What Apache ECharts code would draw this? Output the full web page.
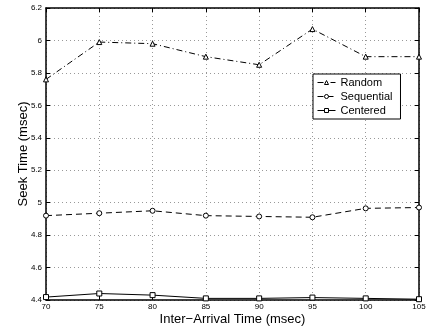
<!DOCTYPE html>
<html><head><meta charset="utf-8">
<script src="https://cdn.jsdelivr.net/npm/echarts@6/dist/echarts.min.js"></script>
<style>html,body{margin:0;padding:0;background:#fff}#c{width:429px;height:331px}</style>
</head><body><div id="c"></div>
<script>
const xValues = [70, 75, 80, 85, 90, 95, 100, 105];
const randomValues = [5.76, 5.99, 5.98, 5.90, 5.85, 6.07, 5.90, 5.90];
const sequentialValues = [4.92, 4.935, 4.95, 4.92, 4.915, 4.91, 4.965, 4.97];
const centeredValues = [4.418, 4.44, 4.43, 4.41, 4.41, 4.415, 4.41, 4.405];
const seriesNames = ['Random', 'Sequential', 'Centered'];

const font = 'Liberation Sans, Arial, sans-serif';
const chart = echarts.init(document.getElementById('c'), null, {renderer: 'canvas'});
const pair = v => xValues.map((x, i) => [x, v[i]]);
const mk = (name, data, symbol, type) => ({
  name, type: 'line', data: pair(data), symbol, symbolSize: 5,
  lineStyle: {color: '#000', width: 1, type},
  itemStyle: {color: '#fff', borderColor: '#000', borderWidth: 1},
  emphasis: {disabled: true}, animation: false
});
const baseAxisCommon = {
  axisLine: {show: true, lineStyle: {color: '#000', width: 1.5}},
  axisTick: {show: true, inside: true, length: 4, lineStyle: {color: '#000'}},
};
chart.setOption({
  animation: false,
  grid: {left: 46, right: 10, top: 8, bottom: 30, containLabel: false},
  legend: {
    data: seriesNames, orient: 'vertical', left: 313, top: 74,
    backgroundColor: '#fff', borderColor: '#000', borderWidth: 1,
    padding: [3, 8, 3, 4], itemGap: 3, itemWidth: 18, itemHeight: 5,
    lineStyle: {width: 1},
    itemStyle: {color: '#fff', borderColor: '#000', borderWidth: 1},
    textStyle: {fontFamily: font, fontSize: 11, color: '#000'}
  },
  xAxis: [{
    type: 'value', min: 70, max: 105, interval: 5,
    name: 'Inter\u2212Arrival Time (msec)', nameLocation: 'middle', nameGap: 13,
    nameMoveOverlap: false,
    nameTextStyle: {fontFamily: font, fontSize: 13, color: '#000'},
    ...baseAxisCommon,
    axisLabel: {fontFamily: font, fontSize: 8, color: '#000', margin: 3},
    splitLine: {show: true, lineStyle: {color: '#999', type: [1, 3], width: 1}}
  }, {
    type: 'value', min: 70, max: 105, interval: 5, position: 'top',
    ...baseAxisCommon, axisLabel: {show: false}, splitLine: {show: false}
  }],
  yAxis: [{
    type: 'value', min: 4.4, max: 6.2, interval: 0.2,
    name: 'Seek Time (msec)', nameLocation: 'middle', nameGap: 16,
    nameMoveOverlap: false,
    nameTextStyle: {fontFamily: font, fontSize: 13, color: '#000'},
    ...baseAxisCommon,
    axisLabel: {fontFamily: font, fontSize: 8, color: '#000', margin: 4,
      formatter: v => String(Math.round(v * 10) / 10)},
    splitLine: {show: true, lineStyle: {color: '#999', type: [1, 3], width: 1}}
  }, {
    type: 'value', min: 4.4, max: 6.2, interval: 0.2, position: 'right',
    ...baseAxisCommon, axisLabel: {show: false}, splitLine: {show: false}
  }],
  series: [
    mk(seriesNames[0], randomValues, 'triangle', [6, 3, 1, 3]),
    mk(seriesNames[1], sequentialValues, 'circle', [6, 4]),
    mk(seriesNames[2], centeredValues, 'rect', 'solid')
  ]
});
</script></body></html>
